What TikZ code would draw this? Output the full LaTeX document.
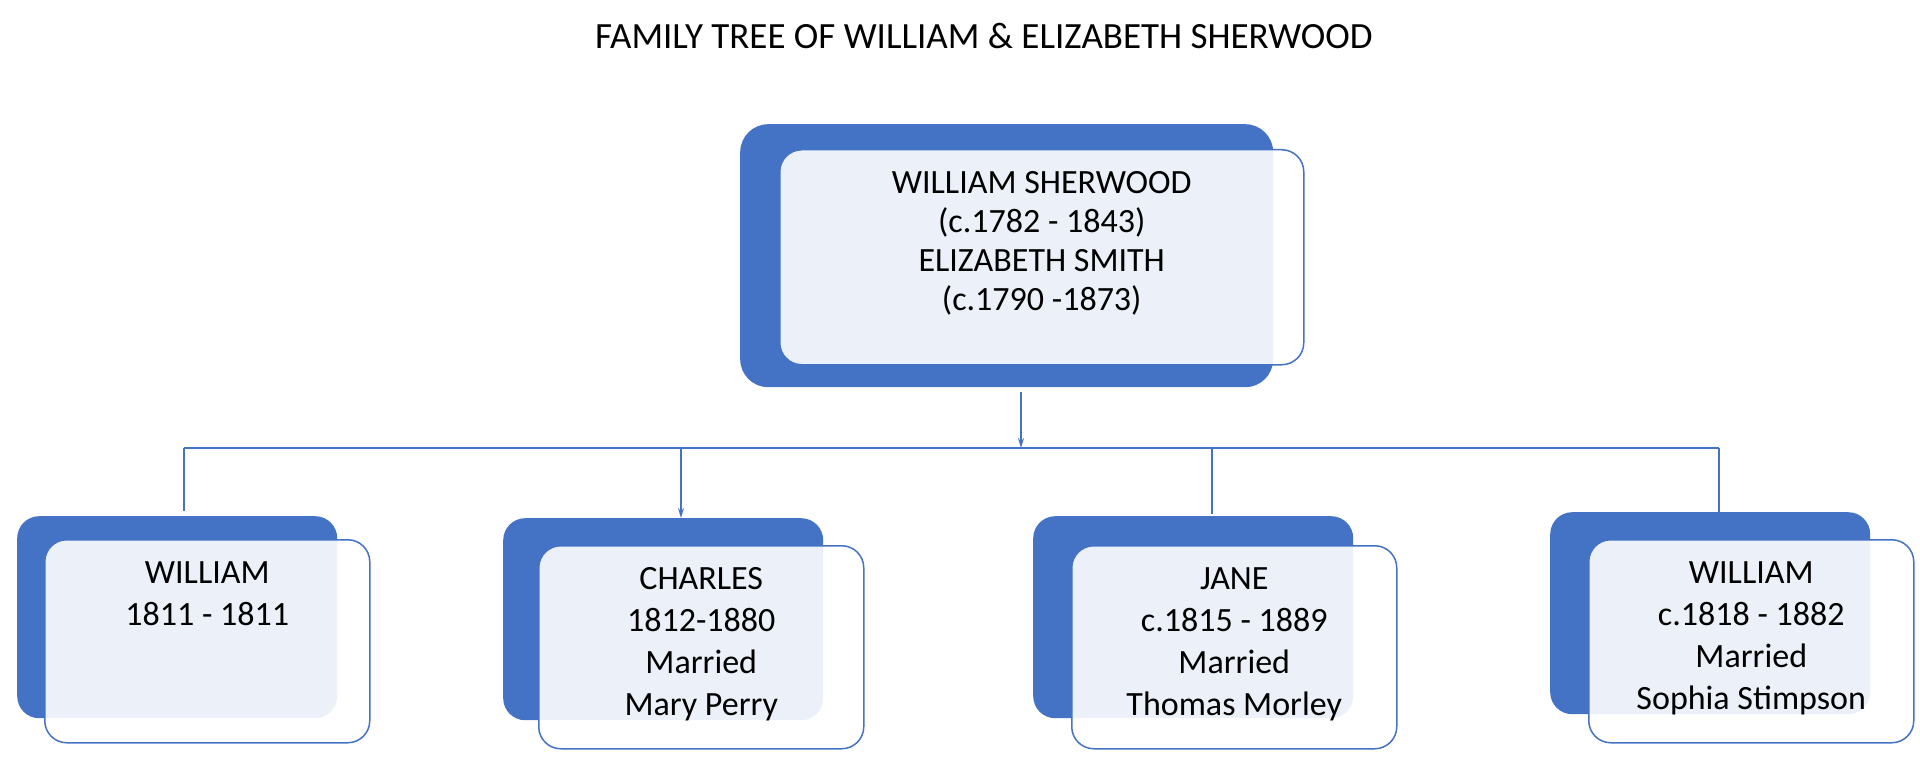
\documentclass[tikz,border=0pt]{standalone}
\usepackage{fontspec}
\setmainfont{Carlito}
\usetikzlibrary{positioning}
\usetikzlibrary{arrows.meta}
\definecolor{cardblue}{HTML}{4472C4}
\tikzset{
	backbox/.style={fill=cardblue, rounded corners=22pt, anchor=north west, inner sep=0pt, minimum width=320pt, minimum height=202pt},
	frontbox/.style={draw=cardblue, line width=1.5pt, fill=white, fill opacity=0.9, rounded corners=22pt, anchor=north west, inner sep=0pt, minimum width=325pt, minimum height=203pt},
	cardtext/.style={align=center, inner sep=0pt, font=\fontsize{34}{42}\selectfont},
	link/.style={draw=cardblue, line width=1.5pt},
	tip/.style={-{Stealth[length=10pt, width=6pt]}}
}
\newcommand{\child}[6] % name, back x, back y, front x, front y, text
{
	% dark card behind
	\node[backbox] (#1) at (#2,#3) {};
	% light card in front
	\node[frontbox] (#1f) at (#4,#5) {};
	% names and dates
	\node[cardtext, below=22pt of #1f.north] (#1t) {#6};
}

\begin{document}
\begin{tikzpicture}[x=1pt, y=-1pt]
	% page: 1920 x 759, y runs down
	\useasboundingbox (0,0) rectangle (1920,759);
	\node[font=\fontsize{37}{44}\selectfont] (title) at (984,36) {FAMILY TREE OF WILLIAM \& ELIZABETH SHERWOOD};
	
	% parents
	\node[backbox, rounded corners=28pt, minimum width=533pt, minimum height=263pt] (parents) at (740,124) {};
	\node[frontbox, minimum width=524pt, minimum height=215pt] (parentsf) at (779,149) {};
	\node[cardtext, font=\fontsize{34}{39}\selectfont, below=22pt of parentsf.north] (parentst) {WILLIAM SHERWOOD\\(c.1782 - 1843)\\ELIZABETH SMITH\\(c.1790 -1873)};
	
	% children
	\child{kidA}{17}{516}{44}{539}{WILLIAM\\1811 - 1811};
	\child{kidB}{503}{518}{538}{545}{CHARLES\\1812-1880\\Married\\Mary Perry};
	\child{kidC}{1033}{516}{1071}{545}{JANE\\c.1815 - 1889\\Married\\Thomas Morley};
	\child{kidD}{1550}{512}{1588}{539}{WILLIAM\\c.1818 - 1882\\Married\\Sophia Stimpson};
	
	% bus line
	\coordinate (bus) at (1021,448);
	\coordinate (busA) at (184,448);
	\coordinate (busB) at (681,448);
	\coordinate (busC) at (1212,448);
	\coordinate (busD) at (1719,448);
	\draw[link, tip] (parents.south -| bus) ++(0,5) -- (bus);
	\draw[link] (busA) -- (busD);
	\draw[link] (busA) -- ++(0,63);
	\draw[link, tip] (busB) -- (busB |- kidB.north);
	\draw[link] (busC) -- ++(0,66);
	\draw[link] (busD) -- ++(0,64);
\end{tikzpicture}
\end{document}
